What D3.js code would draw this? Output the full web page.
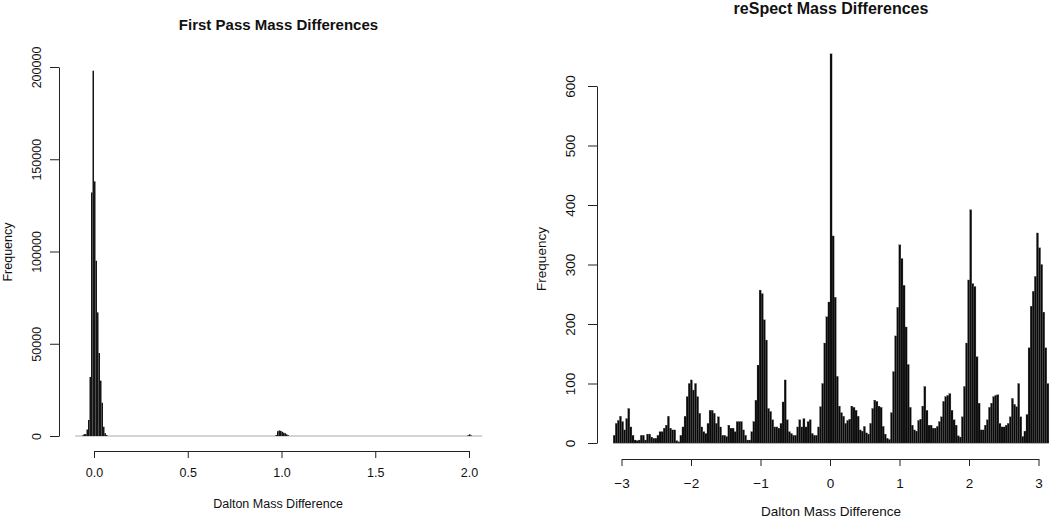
<!DOCTYPE html>
<meta charset="utf-8">
<script src="https://d3js.org/d3.v7.min.js"></script>
<style>
body { margin: 0; background: #fff; }
text { font-family: "Liberation Sans", Arial, Helvetica, sans-serif; fill: #111; }
.axis path, .axis line { stroke: #222; }
.title { font-weight: bold; }
</style>
<body>
<script>
var width = 1050,
    height = 521;

// first pass histogram, three clusters of bins (0.008 Da wide)
var leftBin = 0.008;
var leftRange = [-0.1, 2.07];
var leftStarts = [-0.064, 0.968, 1.992];
var leftPeak0 = [300, 1000, 1000, 3500, 8700, 32000, 132000, 198000, 138000, 95000, 67000, 45000, 30000, 18000, 5000, 1500, 500];
var leftPeak1 = [500, 2600, 3000, 2800, 2300, 1800, 1500, 900, 400];
var leftPeak2 = [400, 900, 300];
var leftXTicks = [0, 0.5, 1, 1.5, 2];
var leftYTicks = [0, 50000, 100000, 150000, 200000];

// reSpect histogram, bins of 0.03 Da starting at -3.12
var rightStart = -3.12,
    rightBin = 0.03;
var rightCounts = [
  13, 33, 38, 45, 36, 22, 41, 58, 27, 13, 5, 4, 5, 13, 13, 5, 15, 15, 10, 8,
  8, 13, 19, 19, 25, 30, 45, 25, 22, 22, 4, 2, 13, 27, 45, 78, 100, 106, 89, 100,
  78, 50, 27, 19, 16, 33, 55, 55, 50, 33, 44, 27, 13, 13, 11, 30, 25, 25, 19, 36,
  36, 36, 22, 13, 5, 5, 19, 36, 72, 131, 257, 251, 207, 173, 58, 53, 39, 27, 27, 25,
  33, 69, 106, 39, 19, 16, 13, 13, 27, 39, 27, 41, 27, 36, 39, 16, 13, 13, 27, 61,
  100, 168, 212, 237, 654, 348, 245, 112, 62, 51, 45, 33, 38, 40, 62, 60, 55, 45, 22, 20,
  28, 17, 15, 33, 58, 72, 70, 62, 60, 28, 15, 8, 6, 51, 120, 180, 228, 333, 310, 265,
  195, 132, 60, 30, 22, 20, 38, 40, 62, 95, 55, 30, 30, 25, 25, 28, 36, 44, 70, 78,
  80, 83, 55, 39, 30, 12, 10, 44, 95, 168, 274, 392, 268, 263, 145, 67, 22, 22, 30, 39,
  60, 67, 78, 80, 81, 33, 27, 27, 30, 33, 44, 75, 65, 61, 100, 44, 11, 20, 48, 160,
  230, 255, 280, 353, 328, 300, 220, 160, 100
];
var rightXTicks = [-3, -2, -1, 0, 1, 2, 3];
var rightYTicks = [0, 100, 200, 300, 400, 500, 600];

var svg = d3.select("body").append("svg")
    .attr("width", width)
    .attr("height", height);

// ---------- left panel ----------
var xL = d3.scaleLinear().domain([0, 2]).range([94, 469]);
var yL = d3.scaleLinear().domain([0, 200000]).range([436, 67]);

var leftBins = [];
[leftPeak0, leftPeak1, leftPeak2].forEach(function(arr, k) {
  arr.forEach(function(c, i) {
    leftBins.push({x0: leftStarts[k] + i * leftBin, n: c});
  });
});

var gl = svg.append("g");

gl.append("line")
    .attr("x1", xL(leftRange[0])).attr("x2", xL(leftRange[1]))
    .attr("y1", yL(0)).attr("y2", yL(0))
    .attr("stroke", "#aaa");

gl.selectAll("rect")
    .data(leftBins)
    .enter().append("rect")
    .attr("x", function(d) { return xL(d.x0); })
    .attr("width", function(d) { return xL(d.x0 + leftBin) - xL(d.x0); })
    .attr("y", function(d) { return yL(d.n); })
    .attr("height", function(d) { return yL(0) - yL(d.n); })
    .attr("fill", "#151515");

var lxa = gl.append("g").attr("class", "axis")
    .attr("transform", "translate(0,451)")
    .call(d3.axisBottom(xL).tickValues(leftXTicks).tickFormat(d3.format(".1f")).tickSize(7).tickSizeOuter(0));
lxa.selectAll("text").attr("y", 17).attr("font-size", "12.5px");

var lya = gl.append("g").attr("class", "axis")
    .attr("transform", "translate(59,0)")
    .call(d3.axisLeft(yL).tickValues(leftYTicks).tickFormat(d3.format("d")).tickSize(9).tickSizeOuter(0));
lya.selectAll("text")
    .attr("transform", "rotate(-90)")
    .attr("x", 0).attr("y", -22.5).attr("dy", "0.35em")
    .attr("text-anchor", "middle")
    .attr("font-size", "12.5px");

gl.append("text").attr("class", "title")
    .attr("x", 278.5).attr("y", 30)
    .attr("text-anchor", "middle").attr("font-size", "15px")
    .text("First Pass Mass Differences");

gl.append("text")
    .attr("x", 278).attr("y", 508)
    .attr("text-anchor", "middle").attr("font-size", "12.5px")
    .text("Dalton Mass Difference");

gl.append("text")
    .attr("transform", "translate(8,252) rotate(-90)")
    .attr("dy", "0.35em")
    .attr("text-anchor", "middle").attr("font-size", "12.5px")
    .text("Frequency");

// ---------- right panel ----------
var xR = d3.scaleLinear().domain([-3, 3]).range([621.5, 1038.5]);
var yR = d3.scaleLinear().domain([0, 600]).range([443, 86]);

var rightBins = rightCounts.map(function(c, i) {
  return {x0: rightStart + i * rightBin, n: c};
});

var gr = svg.append("g");

gr.append("line")
    .attr("x1", xR(rightStart)).attr("x2", xR(rightStart + rightCounts.length * rightBin))
    .attr("y1", yR(0)).attr("y2", yR(0))
    .attr("stroke", "#888");

gr.selectAll("rect")
    .data(rightBins)
    .enter().append("rect")
    .attr("x", function(d) { return xR(d.x0); })
    .attr("width", function(d) { return xR(d.x0 + rightBin) - xR(d.x0); })
    .attr("y", function(d) { return yR(d.n); })
    .attr("height", function(d) { return yR(0) - yR(d.n); })
    .attr("fill", "#0a0a0a")
    .attr("stroke", "#555")
    .attr("stroke-width", 0.25);

var rxa = gr.append("g").attr("class", "axis")
    .attr("transform", "translate(0,459)")
    .call(d3.axisBottom(xR).tickValues(rightXTicks).tickFormat(d3.format("d")).tickSize(7).tickSizeOuter(0));
rxa.selectAll("text").attr("y", 19).attr("font-size", "13.5px");

var rya = gr.append("g").attr("class", "axis")
    .attr("transform", "translate(597,0)")
    .call(d3.axisLeft(yR).tickValues(rightYTicks).tickSize(9).tickSizeOuter(0));
rya.selectAll("text")
    .attr("transform", "rotate(-90)")
    .attr("x", 0).attr("y", -27).attr("dy", "0.35em")
    .attr("text-anchor", "middle")
    .attr("font-size", "13.5px");

gr.append("text").attr("class", "title")
    .attr("x", 831).attr("y", 14)
    .attr("text-anchor", "middle").attr("font-size", "16px")
    .text("reSpect Mass Differences");

gr.append("text")
    .attr("x", 831).attr("y", 516)
    .attr("text-anchor", "middle").attr("font-size", "13.5px")
    .text("Dalton Mass Difference");

gr.append("text")
    .attr("transform", "translate(541,259) rotate(-90)")
    .attr("dy", "0.35em")
    .attr("text-anchor", "middle").attr("font-size", "13.5px")
    .text("Frequency");
</script>
</body>
